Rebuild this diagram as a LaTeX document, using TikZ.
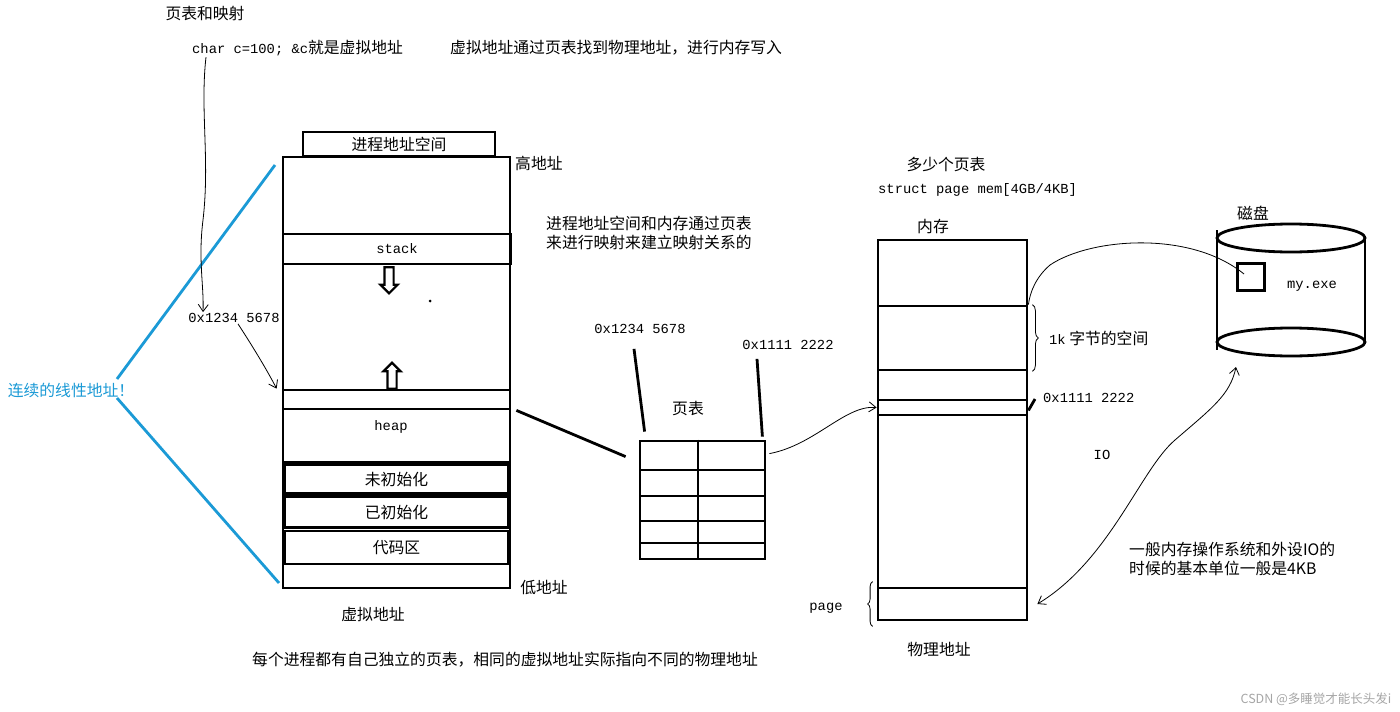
\documentclass[tikz,border=0pt]{standalone}
\usepackage{fontspec}
\setmainfont{Noto Sans CJK SC}
\newfontfamily\codefont{Liberation Mono}
\usetikzlibrary{arrows.meta,positioning,shapes.arrows,decorations.pathreplacing}
\definecolor{linblue}{RGB}{27,154,214}

\begin{document}
\begin{tikzpicture}[x=1pt,y=-1pt,>={Straight Barb[length=7pt,width=10pt]}]
\tikzstyle{seg}=[draw, line width=2.8pt, rectangle, inner sep=0pt, minimum width=227pt]
\tikzstyle{txt}=[inner sep=1pt, font=\fontsize{15.8}{19}\selectfont]
\tikzstyle{mono}=[inner sep=1pt, font=\codefont\fontsize{13.8}{16}\selectfont]
\tikzstyle{hand}=[line width=0.8pt]
\tikzstyle{hollow}=[draw, line width=2.2pt, single arrow, inner sep=3.5pt,
minimum height=26pt, single arrow head extend=4pt]

\fill[white] (0,0) rectangle (1400,712);
\useasboundingbox (0,0) rectangle (1400,712);

% top notes
\node[txt] (maptitle) at (205,14) {页表和映射};
\node[txt, anchor=west] (cvar) at (191,48) {{\codefont\fontsize{13.8}{16}\selectfont char c=100; \&c}就是虚拟地址};
\node[txt, anchor=west] (vpnote) at (449,48) {虚拟地址通过页表找到物理地址，进行内存写入};

% virtual address space
\node[seg, minimum width=192pt, minimum height=24pt] (vtitle) at (399,144) {\fontsize{15.8}{19}\selectfont 进程地址空间};
\node[seg, minimum height=431pt] (vmem) at (396.5,372.5) {};
\node[seg, minimum width=228pt, minimum height=30pt, font=\codefont\fontsize{13.8}{16}\selectfont] (stack) at (397,249) {stack};
\node[seg, minimum height=19pt] (hband) at (396.5,399.5) {};
\node[seg, minimum height=53pt] (heap) at (396.5,435.5) {};
\node[mono] (heaplbl) at (391,427) {heap};
\node[seg, minimum width=223pt, minimum height=29pt, font=\fontsize{15.8}{19}\selectfont] (bss) at (396.5,479) {未初始化};
\node[seg, minimum width=223pt, minimum height=31pt, font=\fontsize{15.8}{19}\selectfont] (data) at (396.5,512) {已初始化};
\node[seg, minimum width=223pt, minimum height=33pt, font=\fontsize{15.8}{19}\selectfont] (codeseg) at (396.5,547.5) {代码区};
\node[hollow, shape border rotate=270] (sdown) at (389,278) {};
\node[hollow, shape border rotate=90] (hup) at (392,378) {};
\node[fill, circle, inner sep=0pt, minimum size=3pt] (dot) at (430,301) {};
\node[txt, anchor=west] (high) at (514,163) {高地址};
\node[txt] (low) at (544,588) {低地址};
\node[txt] (vaddr) at (373,614) {虚拟地址};

% linear address
\node[txt, text=linblue] (lintext) at (71,390) {连续的线性地址！};
\coordinate (vtopl) at (275,165);
\coordinate (vbotl) at (279,583);
\draw[linblue, line width=2.8pt] (vtopl) -- ([xshift=46pt,yshift=11pt]lintext.center);
\draw[linblue, line width=2.8pt] ([xshift=46pt,yshift=-8pt]lintext.center) -- (vbotl);

% address arrows
\node[mono] (addrA) at (234,318) {0x1234 5678};
\draw[hand,->] ([xshift=15pt]cvar.south west) .. controls (200,110) and (210,160) .. (203,220)
  .. controls (198,260) and (204,285) .. ([xshift=-31pt]addrA.north);
\draw[hand,->] ([xshift=4pt]addrA.south) .. controls (255,350) and (268,372) .. ([xshift=-5pt]hband.north west);

% page table
\node[txt, anchor=north west, align=left] (mapnote) at (545,215) {进程地址空间和内存通过页表\\来进行映射来建立映射关系的};
\node[txt] (ptlbl) at (688,409) {页表};
\node[mono] (addrB) at (640,329) {0x1234 5678};
\node[mono] (addrC) at (788,345) {0x1111 2222};
\node[seg, minimum width=125pt, minimum height=118pt] (ptable) at (702.5,500) {};
\draw[line width=2.8pt] (ptable.north) ++(-4.5,0) -- ++(0,118);
\foreach \yy in {470,496,521,543}
  \draw[line width=2.8pt] (640,\yy) -- (765,\yy);
\draw[line width=2.8pt] ([xshift=5pt]hband.south east) -- ([xshift=-13pt,yshift=-17pt]ptable.north west);
\draw[line width=2.8pt] ([xshift=-6pt,yshift=-14pt]addrB.south) -- ([xshift=6pt,yshift=8pt]ptable.north west);
\draw[line width=2.8pt] ([xshift=-31pt,yshift=-8pt]addrC.south) -- ([xshift=-4pt,yshift=3pt]ptable.north east);

% physical memory
\node[txt] (howmany) at (946,165) {多少个页表};
\node[mono, anchor=west] (structmem) at (877,190) {struct page mem[4GB/4KB]};
\node[txt] (memlbl) at (933,227) {内存};
\node[seg, minimum width=149pt, minimum height=380pt] (phys) at (952.5,430) {};
\node[seg, minimum width=149pt, minimum height=64pt] (kblock) at (952.5,338) {};
\node[seg, minimum width=149pt, minimum height=15pt] (pband) at (952.5,407.5) {};
\node[seg, minimum width=149pt, minimum height=32pt] (pagebox) at (952.5,604) {};
\node[txt, anchor=west] (kbyte) at (1048,338) {{\codefont\fontsize{13.8}{16}\selectfont 1k} 字节的空间};
\node[mono, anchor=west] (addrD) at (1042,398) {0x1111 2222};
\node[mono] (pagelbl) at (826,608) {page};
\node[txt] (physlbl) at (939,649) {物理地址};
\draw[hand,->] ([xshift=3pt,yshift=-14pt]ptable.north east) .. controls (815,445) and (845,405) .. (pband.west);
\draw[line width=2.8pt] ([yshift=-3pt]pband.east) -- ([xshift=-7pt,yshift=-1pt]addrD.west);
\draw[hand, decorate, decoration={brace,amplitude=6pt}] ([xshift=4pt]kblock.north east) -- ([xshift=4pt]kblock.south east);
\draw[hand, decorate, decoration={brace,amplitude=5pt}] ([xshift=-4pt,yshift=-5pt]pagebox.south west) -- ([xshift=-4pt,yshift=5pt]pagebox.north west);

% disk
\node[txt] (disklbl) at (1253,213) {磁盘};
\draw[line width=2.8pt] (1291,238) ellipse (74 and 14);
\draw[line width=2.8pt] (1291,342) ellipse (74 and 14);
\draw[line width=2.8pt] (1217,230) -- (1217,350);
\draw[line width=2.8pt] (1365,236) -- (1365,344);
\node[draw, line width=2.8pt, minimum size=27pt, inner sep=0pt] (exe) at (1251,277) {};
\node[mono] (exelbl) at (1312,286) {my.exe};
\coordinate (diskbot) at (1236,367);
\draw[hand] ([xshift=-7pt,yshift=3pt]exe.center) .. controls (1190,230) and (1090,238) .. (1050,265)
  .. controls (1036,277) and (1030,292) .. (kblock.north east);

% IO
\node[mono] (iolbl) at (1102,455) {IO};
\draw[hand,<->] ([xshift=9pt]pagebox.east) .. controls (1110,560) and (1140,470) .. (1175,440)
  .. controls (1212,408) and (1230,395) .. (diskbot);
\node[txt, anchor=north west, align=left] (ionote) at (1128,541) {一般内存操作系统和外设IO的\\时候的基本单位一般是4KB};

% bottom
\node[txt] (pernote) at (505,660) {每个进程都有自己独立的页表，相同的虚拟地址实际指向不同的物理地址};
\node[txt, text=gray!70, font=\fontsize{12.5}{14}\selectfont] (mark) at (1316,699) {CSDN @多睡觉才能长头发i};

\end{tikzpicture}
\end{document}
